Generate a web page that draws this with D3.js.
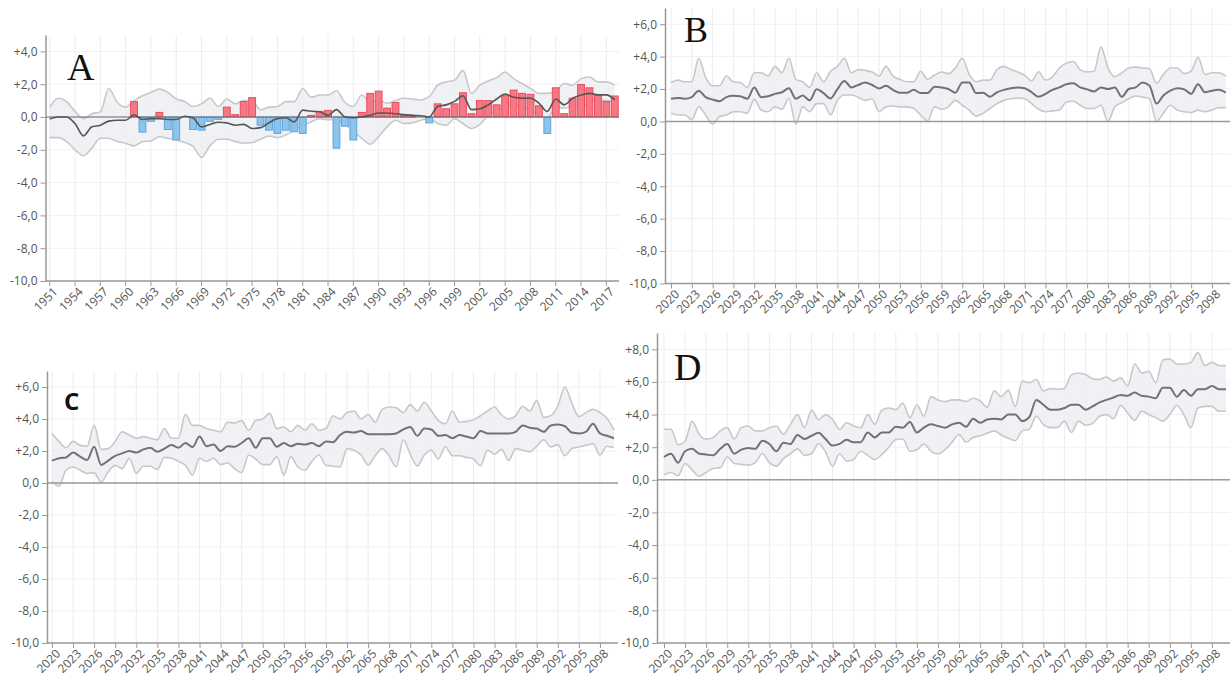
<!DOCTYPE html>
<html>
<head>
<meta charset="utf-8">
<script src="https://cdn.jsdelivr.net/npm/d3@7"></script>
<style>
  body { margin: 0; background: #fff; }
  text { font-family: "Open Sans", sans-serif; }
</style>
</head>
<body>
<svg id="chart" width="1232" height="688"></svg>
<script>
// ---- data ----

// panel A: observed anomalies 1951-2018
var yearsA = d3.range(1951, 2019);
var anomA = [0, 0, 0, 0, 0, 0, 0, 0, 0, 0,
  0.94, -0.92, -0.26, 0.28, -0.76, -1.4, 0, -0.76, -0.8, -0.26,
  -0.14, 0.6, 0.14, 0.94, 1.18, -0.5, -0.8, -1.0, -0.8, -0.9,
  -1.0, 0.1, 0.34, 0.4, -1.9, -0.56, -1.4, 0.28, 1.44, 1.58,
  0.54, 0.88, 0.1, 0.05, 0, -0.36, 0.8, 0.5, 0.8, 1.48,
  0.2, 1.0, 1.0, 0.74, 1.3, 1.64, 1.44, 1.38, 0.68, -1.0,
  1.78, 0.2, 1.14, 1.98, 1.78, 1.34, 0.94, 1.28];
var meanA = [-0.12, 0, 0, -0.4, -1.15, -0.6, -0.5, -0.25, -0.2, -0.2,
  0.14, -0.15, -0.1, -0.1, -0.15, -0.15, 0.05, -0.06, -0.6, -0.46,
  -0.32, -0.36, -0.5, -0.45, -0.7, -0.65, -0.35, -0.1, -0.05, -0.3,
  0.42, 0.35, 0.32, 0.1, 0.45, 0, -0.05, 0, 0.1, 0.24,
  0.24, 0.2, 0.15, 0.1, 0.08, 0, 0.64, 0.74, 0.95, 1.3,
  0.45, 0.5, 0.74, 1.1, 1.4, 1.2, 1.15, 1.14, 0.84, 0.34,
  1.1, 0.74, 1.14, 1.34, 1.44, 1.35, 1.35, 1.04];
var highA = [0.6, 1.14, 0.94, 0.34, -0.1, 0.2, 0.3, 1.74, 0.9, 0.6,
  1.0, 1.3, 1.5, 1.7, 1.5, 1.1, 0.95, 0.64, 0.8, 1.14,
  0.64, 1.1, 0.8, 1.0, 1.0, 0.44, 0.6, 0.64, 0.94, 0.94,
  1.74, 1.2, 1.34, 1.34, 1.6, 0.9, 0.64, 1.34, 0.94, 1.04,
  0.84, 1.0, 1.14, 1.1, 1.04, 1.24, 1.94, 2.14, 2.24, 2.84,
  1.44, 1.94, 2.2, 2.4, 2.74, 2.34, 2.04, 1.74, 1.44, 1.44,
  1.6, 2.04, 1.94, 2.34, 2.44, 2.14, 2.14, 1.94];
var lowA = [-1.26, -1.26, -1.5, -2.0, -2.36, -1.9, -1.3, -1.3, -1.5, -1.6,
  -1.76, -1.5, -1.46, -1.2, -1.3, -1.4, -1.56, -1.8, -2.46, -1.76,
  -1.36, -1.36, -1.5, -1.6, -1.56, -1.36, -1.16, -1.26, -1.1, -0.8,
  -0.5, -0.3, -0.1, -0.16, -0.16, -0.45, -0.85, -1.3, -1.66, -1.2,
  -0.6, -0.2, -0.4, -0.35, -0.2, -0.1, -0.4, -0.5, -0.1, -0.4,
  -0.7, -0.45, 0.1, 0.35, 0.54, 0.74, 0.68, 0.45, 0.14, -0.06,
  0.6, 0.54, 0.66, 0.56, 0.95, 1.06, 1.0, 0.94];

// panels B, C, D: projections 2020-2100
var yearsP = d3.range(2020, 2101);

var meanB = [1.4, 1.45, 1.4, 1.5, 1.9, 1.5, 1.35, 1.25, 1.5, 1.58,
  1.55, 1.4, 2.1, 1.5, 1.55, 1.7, 1.8, 2.05, 1.4, 1.6,
  1.3, 1.98, 1.75, 1.42, 2.0, 2.5, 2.1, 2.25, 2.4, 2.25,
  2.04, 2.2, 1.95, 1.77, 1.77, 1.95, 1.75, 1.75, 2.14, 2.1,
  2.0, 1.77, 2.4, 2.4, 1.75, 1.77, 1.52, 1.8, 1.95, 2.05,
  2.1, 2.05, 1.8, 1.52, 1.7, 1.95, 2.1, 2.3, 2.35, 2.1,
  1.98, 1.85, 2.1, 2.0, 2.1, 1.52, 2.0, 2.1, 2.4, 2.2,
  1.1, 1.6, 1.9, 2.05, 1.98, 1.7, 2.3, 1.8, 1.9, 1.95,
  1.77];
var highB = [2.4, 2.55, 2.45, 2.45, 3.9, 2.7, 2.2, 2.2, 2.8, 2.45,
  2.4, 2.1, 3.0, 3.0, 2.8, 3.4, 3.0, 3.9, 2.6, 2.45,
  2.1, 3.0, 2.45, 3.1, 3.4, 3.9, 3.0, 3.2, 3.15, 3.05,
  2.8, 3.4, 2.8, 2.6, 2.45, 2.45, 3.1, 2.6, 2.87, 3.05,
  2.95, 3.3, 3.9, 2.9, 2.45, 2.55, 2.55, 3.2, 3.4, 3.2,
  3.05, 2.85, 2.5, 3.07, 2.55, 2.75, 3.3, 3.6, 3.7, 3.2,
  3.05, 3.1, 4.6, 3.3, 2.76, 3.0, 3.3, 3.35, 3.3, 3.25,
  2.35, 2.9, 3.3, 3.3, 2.95, 3.1, 3.96, 2.9, 3.0, 3.0,
  2.8];
var lowB = [0.5, 0.4, 0.4, 0.1, 0.9, 0.4, -0.16, 0.3, 0.4, 0.6,
  0.6, 0.5, 1.36, 0.7, 0.6, 0.9, 0.75, 1.42, -0.16, 0.9,
  0.6, 1.1, 1.1, 0.4, 1.3, 1.63, 1.63, 1.5, 1.3, 1.4,
  0.6, 0.9, 0.95, 0.9, 0.9, 0.8, 0.4, 0.04, 0.9, 0.75,
  0.9, 1.3, 1.0, 0.7, 0.33, 0.5, 0.8, 1.1, 1.3, 1.4,
  1.45, 1.4, 1.1, 0.75, 0.6, 0.65, 0.7, 1.2, 1.25, 1.0,
  0.8, 0.8, 1.0, 0, 0.9, 1.15, 1.4, 1.57, 1.5, 1.4,
  0, 0.5, 1.0, 0.7, 0.6, 0.55, 0.7, 0.6, 0.7, 0.85,
  0.85];

var meanC = [1.4, 1.55, 1.6, 1.9, 1.65, 1.44, 2.27, 1.13, 1.4, 1.7,
  1.85, 2.0, 1.9, 2.1, 2.2, 1.95, 2.15, 2.37, 2.2, 2.5,
  2.25, 2.9, 2.3, 2.4, 2.0, 2.3, 2.27, 2.5, 2.8, 2.2,
  2.8, 2.8, 2.27, 2.5, 2.3, 2.45, 2.4, 2.5, 2.3, 2.6,
  2.55, 3.0, 3.2, 3.15, 3.25, 3.05, 3.05, 3.05, 3.05, 3.1,
  3.35, 3.5, 2.95, 3.4, 3.35, 2.95, 3.0, 2.8, 3.0, 2.9,
  2.8, 3.25, 3.1, 3.1, 3.1, 3.1, 3.2, 3.6, 3.45, 3.4,
  3.2, 3.6, 3.65, 3.55, 3.15, 3.1, 3.2, 3.7, 3.1, 2.95,
  2.8];
var highC = [3.1, 2.6, 2.2, 2.6, 2.35, 2.3, 3.6, 2.1, 2.15, 2.6,
  3.2, 3.0, 2.8, 2.9, 2.8, 2.7, 3.4, 2.8, 2.8, 4.3,
  3.6, 3.6, 3.4, 3.3, 3.2, 3.8, 3.75, 3.9, 3.3, 3.9,
  4.0, 4.35, 3.4, 3.5, 3.2, 3.6, 3.3, 3.7, 3.3, 3.4,
  4.2, 4.0, 4.4, 4.5, 4.0, 4.3, 3.8, 4.6, 4.75, 4.7,
  4.4, 4.9, 4.5, 5.05, 4.5, 3.9, 3.7, 4.5, 3.8, 3.85,
  3.95, 4.2, 4.5, 4.75, 4.25, 4.0, 4.2, 4.8, 4.5, 5.15,
  4.1, 4.2, 4.8, 6.0, 5.0, 4.15, 4.4, 4.6, 4.4, 4.05,
  3.3];
var lowC = [0.1, -0.2, 0.8, 1.0, 0.8, 0.6, 0.65, 0.05, 0.7, 1.1,
  0.9, 1.55, 0.6, 1.05, 1.05, 0.85, 1.6, 1.55, 1.35, 1.1,
  0.5, 1.55, 1.35, 1.55, 1.15, 1.25, 0.9, 0.66, 1.75, 1.5,
  1.15, 1.15, 1.65, 0.5, 1.65, 1.0, 0.8, 1.35, 1.75, 1.1,
  1.05, 1.0, 2.15, 2.05, 1.75, 1.13, 1.7, 2.15, 1.7, 1.0,
  2.7, 1.8, 1.07, 1.75, 2.05, 1.5, 2.27, 1.7, 1.7, 1.6,
  1.5, 1.07, 2.05, 1.8, 2.1, 1.4, 2.15, 2.05, 1.95, 2.3,
  2.7, 2.25, 2.4, 1.7, 2.15, 2.25, 2.35, 2.45, 1.75, 2.3,
  2.2];

var meanD = [1.4, 1.6, 1.05, 1.75, 1.9, 1.6, 1.55, 1.5, 1.9, 2.2,
  1.6, 1.85, 1.95, 1.9, 2.4, 2.2, 1.75, 2.27, 2.2, 2.75,
  2.5, 2.7, 2.88, 2.5, 2.1, 2.2, 2.45, 2.3, 2.3, 2.9,
  2.6, 2.9, 2.9, 3.25, 3.2, 3.55, 2.9, 3.2, 3.4, 3.3,
  3.2, 3.4, 3.5, 3.25, 3.75, 3.5, 3.7, 3.75, 3.7, 4.0,
  4.0, 3.6, 3.85, 4.9, 4.6, 4.3, 4.3, 4.4, 4.6, 4.6,
  4.3, 4.5, 4.75, 4.9, 5.05, 5.2, 5.15, 5.35, 5.15, 5.1,
  5.0, 5.65, 5.65, 5.1, 5.5, 5.15, 5.55, 5.55, 5.75, 5.55,
  5.55];
var highD = [3.1, 3.1, 2.15, 2.35, 3.6, 2.8, 2.5, 2.6, 3.0, 3.2,
  2.5, 3.2, 3.3, 3.0, 3.0, 3.2, 3.3, 2.8, 3.4, 4.0,
  3.2, 4.27, 3.7, 4.0, 3.7, 3.1, 3.5, 3.3, 3.2, 4.0,
  3.4, 4.27, 4.4, 4.3, 4.7, 3.8, 4.6, 3.9, 5.1, 4.9,
  4.8, 4.9, 4.9, 4.8, 5.0, 4.85, 4.45, 5.45, 5.1, 5.5,
  4.5, 6.05, 5.95, 6.15, 5.45, 5.6, 5.55, 5.6, 6.45, 6.55,
  6.45, 6.2, 6.15, 6.3, 6.05, 6.25, 5.75, 7.1, 6.55, 6.65,
  5.95, 7.35, 7.4, 7.1, 7.1, 7.2, 7.8, 7.0, 7.2, 7.0,
  7.0];
var lowD = [0.3, 0.45, 0.25, 1.0, 0.6, 0.22, 0.45, 0.7, 0.75, 1.4,
  1.0, 0.95, 0.9, 1.05, 1.6, 1.05, 0.84, 1.3, 1.6, 1.9,
  1.5, 1.6, 2.23, 1.7, 0.84, 1.6, 1.15, 1.25, 1.75, 1.5,
  1.25, 1.55, 2.0, 2.47, 2.5, 1.75, 1.85, 2.2, 1.75, 1.6,
  1.85, 2.3, 2.78, 2.3, 2.6, 2.7, 2.85, 3.0, 2.75, 2.55,
  2.4, 3.0, 3.1, 3.9, 3.4, 3.2, 3.2, 3.6, 2.9, 3.6,
  3.35, 3.45, 3.9, 4.0, 3.75, 4.56, 4.1, 3.65, 4.2, 4.0,
  3.8, 3.6, 4.0, 4.56, 4.0, 3.2, 4.4, 4.5, 4.5, 4.2,
  4.2];

// tick labels
var ticksA = d3.range(1951, 2019, 3);
var ticksP = d3.range(2020, 2101, 3);
var yTicksA = [-10, -8, -6, -4, -2, 0, 2, 4];
var yTicksBC = [-10, -8, -6, -4, -2, 0, 2, 4, 6];
var yTicksD = [-10, -8, -6, -4, -2, 0, 2, 4, 6, 8];

// ---- drawing ----

var svg = d3.select('#chart');

var fmtY = function(d) {
  var s = d.toFixed(1).replace('.', ',');
  return d > 0 ? '+' + s : s;
};

var panels = [
  {name: 'A', serif: true, x0: 45.5, x1: 619, yTop: 35, yBot: 281, yMax: 5, yTicks: yTicksA,
   years: yearsA, mean: meanA, low: lowA, high: highA, bars: anomA, ticks: ticksA,
   lx: 67, ly: 80, size: 38},
  {name: 'B', serif: true, x0: 665, x1: 1230, xs: 671, xe: 1225.8, yTop: 8, yBot: 283.5, yMax: 7, yTicks: yTicksBC,
   years: yearsP, mean: meanB, low: lowB, high: highB, ticks: ticksP,
   lx: 684, ly: 42, size: 36},
  {name: 'C', serif: false, x0: 47, x1: 618, xs: 52, xe: 614, yTop: 371, yBot: 643, yMax: 7, yTicks: yTicksBC,
   years: yearsP, mean: meanC, low: lowC, high: highC, ticks: ticksP,
   lx: 64, ly: 410, size: 24},
  {name: 'D', serif: true, x0: 657, x1: 1230, xs: 664, xe: 1226, yTop: 333, yBot: 643, yMax: 9, yTicks: yTicksD,
   years: yearsP, mean: meanD, low: lowD, high: highD, ticks: ticksP,
   lx: 674, ly: 380, size: 38}
];

panels.forEach(function(p) {
  var g = svg.append('g').attr('class', 'panel');

  var y = d3.scaleLinear().domain([-10, p.yMax]).range([p.yBot, p.yTop]);

  var x, xc;
  if (p.bars) {
    x = d3.scaleBand().domain(p.years).range([p.x0, p.x1]).padding(0);
    xc = function(d) { return x(d) + x.bandwidth() / 2; };
  } else {
    x = d3.scaleLinear().domain([2020, 2100]).range([p.xs, p.xe]);
    xc = function(d) { return x(d); };
  }

  // grid
  g.append('g').selectAll('line.gx')
    .data(p.ticks)
    .enter().append('line')
    .attr('x1', xc).attr('x2', xc)
    .attr('y1', p.yTop).attr('y2', p.yBot)
    .style('stroke', '#ececec').style('stroke-width', 1);

  g.append('g').selectAll('line.gy')
    .data(p.yTicks)
    .enter().append('line')
    .attr('x1', p.x0).attr('x2', p.x1)
    .attr('y1', function(d) { return y(d); }).attr('y2', function(d) { return y(d); })
    .style('stroke', '#f0f0f0').style('stroke-width', 1);

  var rows = p.years.map(function(yr, i) {
    return {year: yr, mean: p.mean[i], low: p.low[i], high: p.high[i]};
  });

  var curve = d3.curveMonotoneX;

  // spread band
  var area = d3.area()
    .x(function(d) { return xc(d.year); })
    .y0(function(d) { return y(d.low); })
    .y1(function(d) { return y(d.high); })
    .curve(curve);

  g.append('path')
    .datum(rows)
    .attr('d', area)
    .style('fill', '#eceef2')
    .style('fill-opacity', 0.85);

  ['low', 'high'].forEach(function(k) {
    g.append('path')
      .datum(rows)
      .attr('d', d3.line().x(function(d) { return xc(d.year); }).y(function(d) { return y(d[k]); }).curve(curve))
      .style('fill', 'none')
      .style('stroke', '#c8c8c8')
      .style('stroke-width', 1.6);
  });

  // anomaly bars (panel A)
  if (p.bars) {
    var barData = p.years.map(function(yr, i) { return {year: yr, v: p.bars[i]}; })
      .filter(function(d) { return d.v !== 0; });

    g.append('g').selectAll('rect')
      .data(barData)
      .enter().append('rect')
      .attr('x', function(d) { return x(d.year) + 0.8; })
      .attr('width', x.bandwidth() - 1.6)
      .attr('y', function(d) { return y(Math.max(0, d.v)); })
      .attr('height', function(d) { return Math.abs(y(d.v) - y(0)); })
      .style('fill', function(d) { return d.v > 0 ? 'rgb(246,120,132)' : 'rgb(140,196,236)'; })
      .style('stroke', function(d) { return d.v > 0 ? 'rgb(236,74,92)' : 'rgb(92,164,222)'; })
      .style('stroke-width', 1);
  }

  // zero line
  g.append('line')
    .attr('x1', p.x0).attr('x2', p.x1)
    .attr('y1', y(0)).attr('y2', y(0))
    .style('stroke', p.bars ? '#666' : '#9a9a9a')
    .style('stroke-width', p.bars ? 1 : 1.5);

  // mean line
  g.append('path')
    .datum(rows)
    .attr('d', d3.line().x(function(d) { return xc(d.year); }).y(function(d) { return y(d.mean); }).curve(curve))
    .style('fill', 'none')
    .style('stroke', p.bars ? '#555' : '#727272')
    .style('stroke-width', p.bars ? 1.6 : 2);

  // y axis
  var yAxis = g.append('g')
    .attr('transform', 'translate(' + p.x0 + ',0)')
    .call(d3.axisLeft(y).tickValues(p.yTicks).tickFormat(fmtY).tickSize(5).tickSizeOuter(0).tickPadding(3));

  // x axis
  var xAxis = g.append('g')
    .attr('transform', 'translate(0,' + p.yBot + ')')
    .call(d3.axisBottom(x).tickValues(p.ticks).tickFormat(d3.format('d')).tickSize(5).tickSizeOuter(0));
  xAxis.select('.domain').remove();
  xAxis.append('line')
    .attr('x1', p.x0).attr('x2', p.x1)
    .style('stroke', '#999').style('stroke-width', 1.5);

  xAxis.selectAll('.tick text')
    .attr('x', -2)
    .attr('y', 10)
    .attr('dy', '0.35em')
    .attr('transform', 'rotate(-45)')
    .style('text-anchor', 'end');

  [yAxis, xAxis].forEach(function(a) {
    a.selectAll('.domain').style('stroke', '#999').style('stroke-width', 1.5);
    a.selectAll('.tick line').style('stroke', '#999');
    a.selectAll('.tick text')
      .style('fill', '#555')
      .style('font-size', '12px')
      .style('font-family', '"Open Sans", sans-serif');
  });

  // panel letter
  g.append('text')
    .attr('x', p.lx)
    .attr('y', p.ly)
    .style('font-family', p.serif ? '"Liberation Serif", serif' : '"Open Sans", sans-serif')
    .style('font-weight', p.serif ? 'normal' : 'bold')
    .style('font-size', p.size + 'px')
    .style('fill', '#111')
    .text(p.name);
});
</script>
</body>
</html>
